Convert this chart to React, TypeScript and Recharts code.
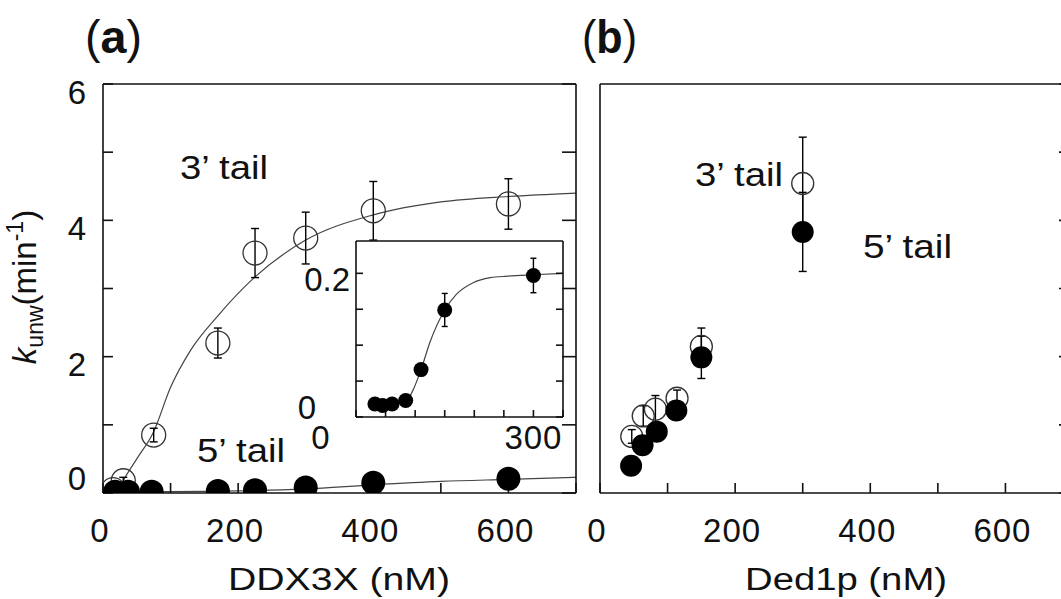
import React from "react"
import { ComposedChart, Scatter, Line, XAxis, YAxis, ErrorBar } from "recharts"

// (a) DDX3X, 3' tail (open) and 5' tail (filled)
const ddxConc3 = [15, 30, 75, 170, 225, 300, 400, 600]
const ddxRate3 = [0.05, 0.18, 0.85, 2.2, 3.52, 3.74, 4.14, 4.24]
const ddxErr3 = [0, 0.05, 0.1, 0.22, 0.36, 0.38, 0.43, 0.37]
const ddxConc5 = [18, 37, 72, 170, 225, 300, 400, 600]
const ddxRate5 = [0.02, 0.02, 0.02, 0.03, 0.04, 0.08, 0.15, 0.21]

// fitted curves
const ddxFitConc3 = [25, 30, 50, 75, 100, 130, 170, 225, 300, 400, 500, 600, 700]
const ddxFitRate3 = [0.08, 0.18, 0.5, 0.9, 1.55, 2.1, 2.6, 3.17, 3.71, 4.08, 4.27, 4.35, 4.4]
const ddxFitConc5 = [15, 100, 200, 300, 400, 500, 600, 700]
const ddxFitRate5 = [0.02, 0.02, 0.03, 0.06, 0.12, 0.17, 0.2, 0.23]

// inset: 5' tail, low range
const insetConc = [32, 45, 61, 84, 110, 150, 300]
const insetRate = [0.018, 0.016, 0.018, 0.023, 0.066, 0.149, 0.197]
const insetErr = [0, 0, 0, 0, 0, 0.023, 0.024]
const insetFitConc = [32, 45, 61, 84, 95, 110, 125, 150, 170, 198, 227, 256, 300, 350]
const insetFitRate = [0.017, 0.016, 0.018, 0.022, 0.035, 0.066, 0.104, 0.149, 0.171, 0.187, 0.194, 0.196, 0.198, 0.2]

// (b) Ded1p
const dedConc3 = [47, 64, 82, 114, 150, 300]
const dedRate3 = [0.83, 1.13, 1.23, 1.39, 2.15, 4.54]
const dedErr3 = [0.1, 0.15, 0.2, 0.12, 0.27, 0.68]
const dedConc5 = [46, 63, 84, 113, 150, 300]
const dedRate5 = [0.4, 0.7, 0.9, 1.21, 1.99, 3.83]
const dedErr5 = [0.05, 0.08, 0.08, 0.1, 0.31, 0.58]

// ticks
const xTicks = [0, 100, 200, 300, 400, 500, 600, 700]
const xLabels = [0, 200, 400, 600]
const yTicks = [0, 1, 2, 3, 4, 5, 6]
const yLabels = [0, 2, 4, 6]
const insetXTicks = [0, 50, 100, 150, 200, 250, 300, 350]
const insetXLabels = [0, 300]
const insetYTicks = [0, 0.05, 0.1, 0.15, 0.2]
const insetYLabels = [0, 0.2]

const zip = (xs: number[], ys: number[], es?: number[]) =>
  xs.map((x, i) => ({ x, y: ys[i], e: es ? es[i] : 0 }))

const font = "'Liberation Sans', Arial, sans-serif"
const ink = "#111"
const frame = { stroke: ink, strokeWidth: 1.6 }

const openDot = (r: number) => (p: any) =>
  <circle cx={p.cx} cy={p.cy} r={r} fill="none" stroke="#333" strokeWidth={1.3} />
const fullDot = (r: number) => (p: any) =>
  <circle cx={p.cx} cy={p.cy} r={r} fill="#000" />

const MainXTick = ({ x, y, payload }: any) =>
  xLabels.includes(payload.value) ? (
    <text x={x - 3} y={y} textAnchor="middle" dominantBaseline="central"
      fontFamily={font} fontSize={33} fill={ink} letterSpacing={1}>{payload.value}</text>
  ) : <g />

const MainYTick = ({ x, y, payload }: any) =>
  yLabels.includes(payload.value) ? (
    <text x={x} y={y + (payload.value === 0 ? -15 : 8)} textAnchor="end" dominantBaseline="central"
      fontFamily={font} fontSize={33} fill={ink}>{payload.value}</text>
  ) : <g />

const InsetXTick = ({ x, y, payload }: any) =>
  insetXLabels.includes(payload.value) ? (
    <text x={x + (payload.value === 0 ? -35 : 0)} y={y} textAnchor="middle" dominantBaseline="central"
      fontFamily={font} fontSize={33} fill={ink} letterSpacing={1}>{payload.value}</text>
  ) : <g />

const InsetYTick = ({ x, y, payload }: any) =>
  insetYLabels.includes(payload.value) ? (
    <text x={x + (payload.value === 0 ? -34 : 0)} y={y + (payload.value === 0 ? -10 : 6)}
      textAnchor="end" dominantBaseline="central"
      fontFamily={font} fontSize={33} fill={ink}>{payload.value}</text>
  ) : <g />

const frameAxes = (withYLabels: boolean) => [
  <XAxis key="xb" type="number" dataKey="x" domain={[0, 700]} ticks={xTicks} allowDataOverflow
    interval={0} height={60} tickSize={-10} tickMargin={47} axisLine={frame} tickLine={frame}
    tick={<MainXTick />} />,
  <XAxis key="xt" xAxisId="top" orientation="top" type="number" domain={[0, 700]} ticks={xTicks}
    allowDataOverflow interval={0} height={1} tickSize={-10} axisLine={frame} tickLine={frame}
    tickFormatter={() => ""} />,
  <YAxis key="yl" type="number" dataKey="y" domain={[0, 6]} ticks={yTicks} allowDataOverflow
    interval={0} width={103} tickSize={-10} tickMargin={27} axisLine={frame} tickLine={frame}
    tick={withYLabels ? <MainYTick /> : false} />,
  <YAxis key="yr" yAxisId="right" orientation="right" type="number" domain={[0, 6]} ticks={yTicks}
    allowDataOverflow interval={0} width={1} tickSize={-14} axisLine={frame} tickLine={frame}
    tickFormatter={() => ""} />,
]

const panelMargin = { top: 83, right: 23, bottom: 46, left: 0 }

export default function App() {
  return (
    <div style={{ position: "fixed", left: 0, top: 0, width: 1061, height: 599, overflow: "hidden", background: "#fff" }}>
      {/* panel (a) */}
      <div style={{ position: "absolute", left: 0, top: 0 }}>
        <ComposedChart width={600} height={599} margin={panelMargin}>
          {frameAxes(true)}
          <Line data={zip(ddxFitConc3, ddxFitRate3)} dataKey="y" type="monotone" stroke="#444"
            strokeWidth={1.2} dot={false} isAnimationActive={false} />
          <Line data={zip(ddxFitConc5, ddxFitRate5)} dataKey="y" type="monotone" stroke="#444"
            strokeWidth={1.2} dot={false} isAnimationActive={false} />
          <Scatter data={zip(ddxConc3, ddxRate3, ddxErr3)} shape={openDot(12)} isAnimationActive={false}>
            <ErrorBar dataKey="e" direction="y" width={4} stroke="#000" strokeWidth={1.4} />
          </Scatter>
          <Scatter data={zip(ddxConc5, ddxRate5)} shape={fullDot(12)} isAnimationActive={false} />
        </ComposedChart>
      </div>

      {/* panel (b) */}
      <div style={{ position: "absolute", left: 497, top: 0 }}>
        <ComposedChart width={600} height={599} margin={panelMargin}>
          {frameAxes(false)}
          <Scatter data={zip(dedConc3, dedRate3, dedErr3)} shape={openDot(11)} isAnimationActive={false}>
            <ErrorBar dataKey="e" direction="y" width={4} stroke="#000" strokeWidth={1.4} />
          </Scatter>
          <Scatter data={zip(dedConc5, dedRate5, dedErr5)} shape={fullDot(11)} isAnimationActive={false}>
            <ErrorBar dataKey="e" direction="y" width={4} stroke="#000" strokeWidth={1.4} />
          </Scatter>
        </ComposedChart>
      </div>

      {/* inset in (a) */}
      <div style={{ position: "absolute", left: 286, top: 235 }}>
        <ComposedChart width={282} height={226} margin={{ top: 5, right: 4, bottom: 4, left: 0 }}>
          <XAxis type="number" dataKey="x" domain={[0, 350]} ticks={insetXTicks} allowDataOverflow
            interval={0} height={40} tickSize={-7} tickMargin={27} axisLine={frame} tickLine={frame}
            tick={<InsetXTick />} />
          <XAxis xAxisId="top" orientation="top" type="number" domain={[0, 350]} ticks={insetXTicks}
            allowDataOverflow interval={0} height={1} tickSize={-7} axisLine={frame} tickLine={frame}
            tickFormatter={() => ""} />
          <YAxis type="number" dataKey="y" domain={[0, 0.245]} ticks={insetYTicks} allowDataOverflow
            interval={0} width={70} tickSize={-7} tickMargin={13} axisLine={frame} tickLine={frame}
            tick={<InsetYTick />} />
          <YAxis yAxisId="right" orientation="right" type="number" domain={[0, 0.245]} ticks={insetYTicks}
            allowDataOverflow interval={0} width={1} tickSize={-7} axisLine={frame} tickLine={frame}
            tickFormatter={() => ""} />
          <Line data={zip(insetFitConc, insetFitRate)} dataKey="y" type="monotone" stroke="#444"
            strokeWidth={1.2} dot={false} isAnimationActive={false} />
          <Scatter data={zip(insetConc, insetRate, insetErr)} shape={fullDot(7.5)} isAnimationActive={false}>
            <ErrorBar dataKey="e" direction="y" width={3} stroke="#000" strokeWidth={1.4} />
          </Scatter>
        </ComposedChart>
      </div>

      {/* titles and annotations */}
      <svg width={1061} height={599} style={{ position: "absolute", left: 0, top: 0, pointerEvents: "none" }}
        fontFamily={font} fill={ink}>
        <text x={85} y={53} fontSize={46} textLength={57} lengthAdjust="spacingAndGlyphs">
          (<tspan fontWeight="bold">a</tspan>)
        </text>
        <text x={582} y={53} fontSize={46} textLength={55} lengthAdjust="spacingAndGlyphs">
          (<tspan fontWeight="bold">b</tspan>)
        </text>
        <text x={180} y={179} fontSize={33} textLength={88} lengthAdjust="spacingAndGlyphs">3’ tail</text>
        <text x={197} y={462} fontSize={33} textLength={88} lengthAdjust="spacingAndGlyphs">5’ tail</text>
        <text x={695} y={186} fontSize={33} textLength={88} lengthAdjust="spacingAndGlyphs">3’ tail</text>
        <text x={863} y={258} fontSize={33} textLength={89} lengthAdjust="spacingAndGlyphs">5’ tail</text>
        <text x={228} y={590} fontSize={31} textLength={222} lengthAdjust="spacingAndGlyphs">DDX3X (nM)</text>
        <text x={745} y={590} fontSize={31} textLength={202} lengthAdjust="spacingAndGlyphs">Ded1p (nM)</text>
        <text transform="translate(36, 287) rotate(-90)" textAnchor="middle" fontSize={33}>
          <tspan fontStyle="italic">k</tspan>
          <tspan fontSize={23} dy={7}>unw</tspan>
          <tspan dy={-7}>(min</tspan>
          <tspan fontSize={23} dy={-13}>-1</tspan>
          <tspan dy={13}>)</tspan>
        </text>
      </svg>
    </div>
  )
}
